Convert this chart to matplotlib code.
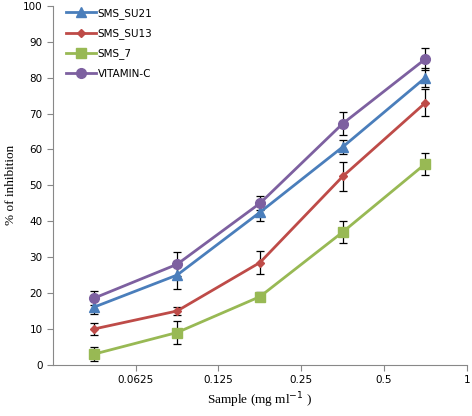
import numpy as np
import matplotlib.pyplot as plt

# sample concentration (mg/ml), points sit half way between the axis ticks
conc = [0.0442, 0.0884, 0.177, 0.354, 0.707]
ticks = [0.0625, 0.125, 0.25, 0.5, 1]
tick_labels = ['0.0625', '0.125', '0.25', '0.5', '1']

su21 = [16.1, 25.0, 42.5, 60.7, 80.0]
su21_err = [1.9, 4.0, 2.3, 1.9, 2.7]
su13 = [10.0, 15.0, 28.5, 52.5, 73.0]
su13_err = [1.7, 1.2, 3.3, 4.0, 3.7]
sms7 = [3.0, 9.0, 19.0, 37.0, 56.0]
sms7_err = [2.0, 3.3, 1.2, 3.2, 3.0]
vitc = [18.6, 28.0, 45.0, 67.2, 85.2]
vitc_err = [2.0, 3.3, 2.0, 3.3, 3.0]

fig = plt.figure(figsize=(4.72, 4.16), dpi=100)
ax = fig.add_axes([0.112, 0.123, 0.877, 0.863])

series = [('SMS_SU21', su21, su21_err, '#4A7EBB', '^', 6.5),
          ('SMS_SU13', su13, su13_err, '#BE4B48', 'D', 4.5),
          ('SMS_7', sms7, sms7_err, '#98B954', 's', 6.5),
          ('VITAMIN-C', vitc, vitc_err, '#7D60A0', 'o', 7)]

for name, y, e, c, m, ms in series:
    ax.errorbar(conc, y, yerr=e, fmt='none', ecolor='black', elinewidth=0.9,
                capsize=3, capthick=0.9, zorder=2)
    ax.plot(conc, y, color=c, marker=m, markersize=ms, lw=2, label=name, zorder=3)

ax.set_xscale('log', base=2)
ax.set_xlim(0.03125, 1)
ax.set_xticks(ticks)
ax.set_xticklabels(tick_labels)
ax.minorticks_off()
ax.set_ylim(0, 100)
ax.set_yticks(np.arange(0, 101, 10))

for s in ['top', 'right']:
    ax.spines[s].set_visible(False)
for s in ['left', 'bottom']:
    ax.spines[s].set_color('#888888')
ax.tick_params(colors='#888888', labelcolor='black', labelsize=7.5, length=4)

ax.set_xlabel('Sample (mg ml$^{-1}$ )', family='Liberation Serif', fontsize=9.5)
ax.set_ylabel('% of inhibition', family='Liberation Serif', fontsize=9.5)

ax.legend(loc='upper left', bbox_to_anchor=(0.01, 1.02), frameon=False,
          fontsize=7.5, handlelength=2.8, labelspacing=0.9, handletextpad=0.2)

fig.savefig('out.png')
